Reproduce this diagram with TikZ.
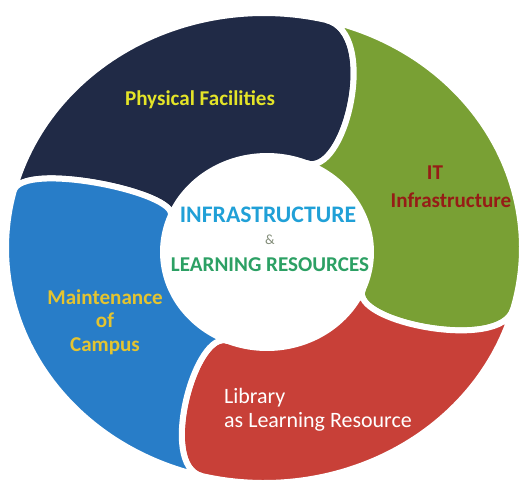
\documentclass[tikz,border=0pt]{standalone}
\usepackage{fontspec}
\setmainfont{Carlito}
\definecolor{navyblob}{RGB}{32,42,70}
\definecolor{greenblob}{RGB}{121,160,52}
\definecolor{redblob}{RGB}{200,64,56}
\definecolor{blueblob}{RGB}{40,125,200}
\definecolor{phyyellow}{RGB}{228,228,40}
\definecolor{campgold}{RGB}{228,196,48}
\definecolor{itred}{RGB}{150,28,22}
\definecolor{infrablue}{RGB}{32,160,215}
\definecolor{learngreen}{RGB}{44,160,100}
\definecolor{ampgray}{RGB}{130,140,120}

\begin{document}
\begin{tikzpicture}[x=0.02cm, y=0.02cm,
  piece/.style={draw=white, line width=3.4pt, line join=round, variable=\t, samples=60},
  lbl/.style={font=\bfseries\fontsize{12}{13.4}\selectfont}]
\useasboundingbox (0,0) rectangle (523,485);
% where two pieces meet, outer ring and inner ring
\coordinate (o1) at (326.4,465.0);
\coordinate (i1) at (306.0,322.0);
\coordinate (o2) at (513.2,176.2);
\coordinate (i2) at (362.7,195.5);
\coordinate (o3) at (201.6,9.0);
\coordinate (i3) at (228.0,144.0);
\coordinate (o4) at (13.7,293.9);
\coordinate (i4) at (170.6,269.0);
% bulge of each head
\coordinate (h1o) at (379.8,451.7);
\coordinate (h1i) at (344.9,306.3);
\coordinate (h2o) at (501.6,132.7);
\coordinate (h2i) at (349.0,163.3);
\coordinate (h3o) at (157.9,19.9);
\coordinate (h3i) at (195.5,157.1);
\coordinate (h4o) at (21.4,324.9);
\coordinate (h4i) at (180.0,292.2);

\filldraw[piece, fill=navyblob] plot[domain=166:76] ({264+258*cos(\t)},{237+235*sin(\t)})
  .. controls (h1o) and (h1i) .. (i1)
  -- plot[domain=68:158] ({267+104*cos(\t)},{233+96*sin(\t)})
  .. controls (h4i) and (h4o) .. (o4) -- cycle;
\filldraw[piece, fill=greenblob] plot[domain=76:-15] ({264+258*cos(\t)},{237+235*sin(\t)})
  .. controls (h2o) and (h2i) .. (i2)
  -- plot[domain=-23:68] ({267+104*cos(\t)},{233+96*sin(\t)})
  .. controls (h1i) and (h1o) .. (o1) -- cycle;
\filldraw[piece, fill=redblob] plot[domain=-15:-104] ({264+258*cos(\t)},{237+235*sin(\t)})
  .. controls (h3o) and (h3i) .. (i3)
  -- plot[domain=-112:-23] ({267+104*cos(\t)},{233+96*sin(\t)})
  .. controls (h2i) and (h2o) .. (o2) -- cycle;
\filldraw[piece, fill=blueblob] plot[domain=-104:-194] ({264+258*cos(\t)},{237+235*sin(\t)})
  .. controls (h4o) and (h4i) .. (i4)
  -- plot[domain=-202:-112] ({267+104*cos(\t)},{233+96*sin(\t)})
  .. controls (h3i) and (h3o) .. (o3) -- cycle;

\node[lbl, text=phyyellow] (phys) at (200,385) {Physical Facilities};
\node[lbl, text=itred] (it) at (435,312) {IT};
\node[lbl, text=itred] (itinfra) at (451,285) {Infrastructure};
\node[lbl, text=infrablue, font=\bfseries\fontsize{13.5}{15}\selectfont] (infra) at (268,270) {INFRASTRUCTURE};
\node[text=ampgray, font=\fontsize{8}{9}\selectfont] (amp) at (270,245) {\&};
\node[lbl, text=learngreen] (learn) at (270,220) {LEARNING RESOURCES};
\node[lbl, text=campgold, align=center] (camp) at (105,163) {Maintenance\\of\\Campus};
\node[text=white, align=left, anchor=west, font=\fontsize{12.5}{13.6}\selectfont] (lib) at (218,75) {Library\\as Learning Resource};
\end{tikzpicture}
\end{document}
